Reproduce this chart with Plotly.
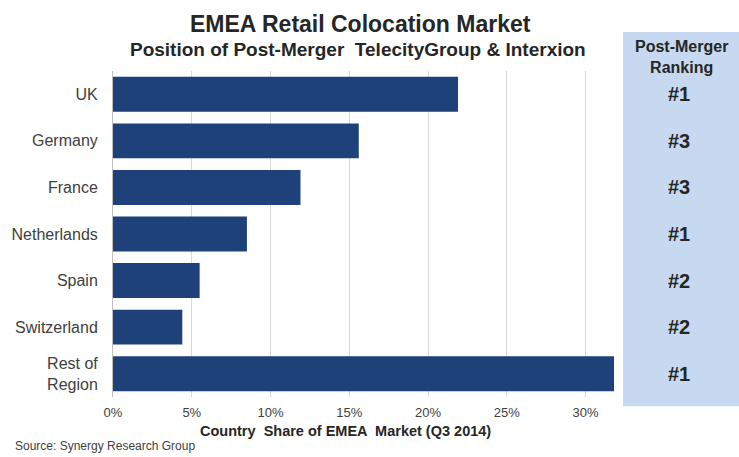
import plotly.graph_objects as go

categories = ["UK", "Germany", "France", "Netherlands", "Spain", "Switzerland", "Rest of<br>Region"]
shares = [0.219, 0.156, 0.119, 0.085, 0.055, 0.044, 0.32]
rankings = ["#1", "#3", "#3", "#1", "#2", "#2", "#1"]
tick_vals = [0, 0.05, 0.10, 0.15, 0.20, 0.25, 0.30]
tick_text = ["0%", "5%", "10%", "15%", "20%", "25%", "30%"]

FONT = "Liberation Sans, Arial, sans-serif"
BAR = "#1f4179"
DARK = "#262626"

fig = go.Figure()
fig.add_trace(go.Bar(
    x=shares, y=categories, orientation="h",
    marker=dict(color=BAR, line=dict(width=0)),
    hoverinfo="skip",
))

# Right-hand ranking panel
fig.add_shape(type="rect", xref="paper", yref="paper",
              x0=1.018, x1=1.26, y0=-0.028, y1=1.12,
              fillcolor="#c6d9f0", line=dict(width=0), layer="below")
fig.add_annotation(xref="paper", yref="paper", x=1.135, y=1.106, xanchor="center", yanchor="top",
                   text="<b>Post-Merger<br>Ranking</b>", showarrow=False,
                   font=dict(family=FONT, size=16, color=DARK))
for c, r in zip(categories, rankings):
    fig.add_annotation(xref="paper", yref="y", x=1.13, y=c, xanchor="center",
                       text=f"<b>{r}</b>", showarrow=False,
                       font=dict(family=FONT, size=20, color=DARK))

# Titles
fig.add_annotation(xref="paper", yref="paper", x=0.495, y=1.143, xanchor="center", yanchor="middle",
                   text="<b>EMEA Retail Colocation Market</b>", showarrow=False,
                   font=dict(family=FONT, size=23, color=DARK))
fig.add_annotation(xref="paper", yref="paper", x=0.49, y=1.066, xanchor="center", yanchor="middle",
                   text="<b>Position of Post-Merger  TelecityGroup & Interxion</b>", showarrow=False,
                   font=dict(family=FONT, size=19, color=DARK))
# Axis title
fig.add_annotation(xref="paper", yref="paper", x=0.4635, y=-0.104, xanchor="center", yanchor="middle",
                   text="<b>Country  Share of EMEA  Market (Q3 2014)</b>", showarrow=False,
                   font=dict(family=FONT, size=14.5, color=DARK))
fig.add_annotation(xref="paper", yref="paper", x=-0.2, y=-0.179, xanchor="left", yanchor="bottom",
                   text="Source: Synergy Research Group", showarrow=False,
                   font=dict(family=FONT, size=12, color="#404040"))

fig.update_layout(
    width=739, height=457,
    margin=dict(l=113, r=125, t=71, b=60),
    paper_bgcolor="white", plot_bgcolor="white",
    showlegend=False, bargap=0.25,
    font=dict(family=FONT, size=12, color="#404040"),
    xaxis=dict(range=[0, 0.318], tickvals=tick_vals, ticktext=tick_text,
               showgrid=True, gridcolor="#d9d9d9", gridwidth=1, zeroline=False,
               showline=False, ticks="", ticklabelstandoff=6,
               tickfont=dict(size=13, color="#404040")),
    yaxis=dict(autorange="reversed", showline=True, linecolor="#bfbfbf", linewidth=1,
               ticks="", ticklabelstandoff=11, tickfont=dict(size=16, color="#404040")),
)

fig.write_html("out.html", config={"displayModeBar": False},
               post_script="document.body.style.margin='0';document.body.style.overflow='hidden';")
